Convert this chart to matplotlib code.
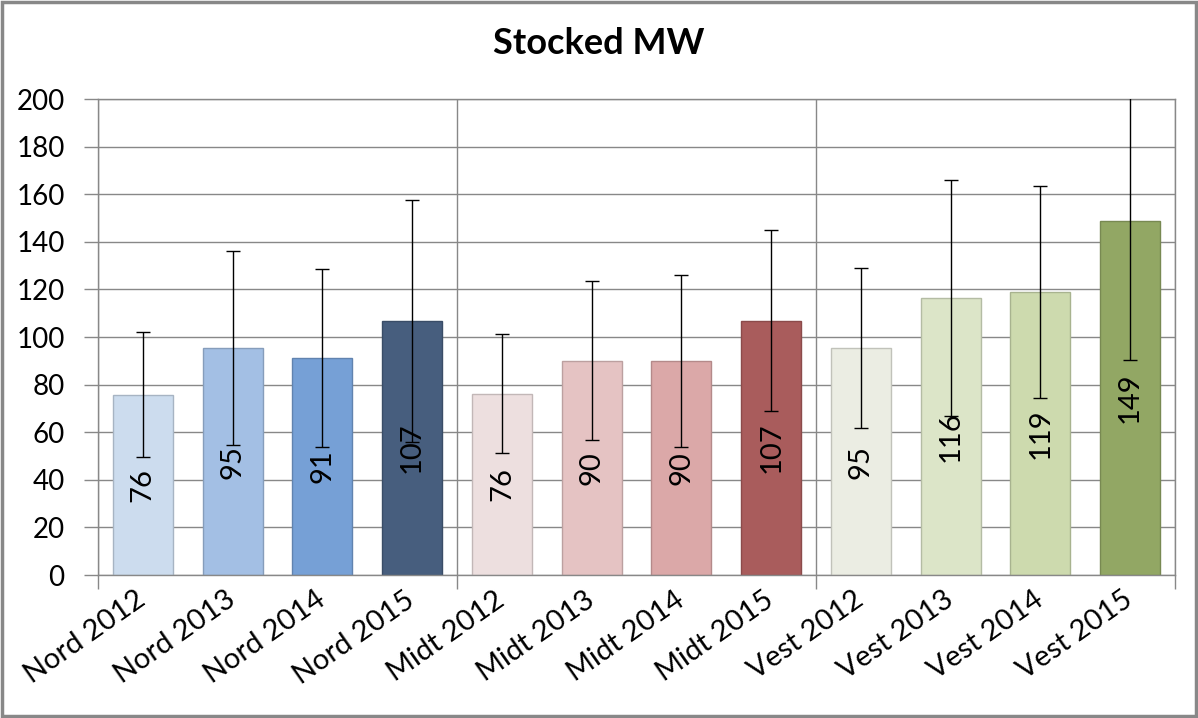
import matplotlib
matplotlib.use("Agg")
import matplotlib.pyplot as plt
import numpy as np
from matplotlib.patches import Rectangle
from matplotlib.colors import to_rgb

categories = ["Nord 2012", "Nord 2013", "Nord 2014", "Nord 2015",
              "Midt 2012", "Midt 2013", "Midt 2014", "Midt 2015",
              "Vest 2012", "Vest 2013", "Vest 2014", "Vest 2015"]
values = [75.8, 95.3, 91.1, 106.8, 76.2, 90.1, 89.8, 106.9, 95.3, 116.4, 118.9, 148.7]
errors = [26.2, 40.8, 37.4, 50.8, 25.0, 33.4, 36.2, 38.0, 33.6, 49.6, 44.6, 58.4]
colors = ["#CCDCEE", "#A3BFE4", "#76A0D6", "#475E7E",
          "#EDDFDF", "#E5C3C3", "#DBA8A8", "#A95C5C",
          "#EBEDE3", "#DCE5C8", "#CDDAAE", "#92A764"]
yticks = [0, 20, 40, 60, 80, 100, 120, 140, 160, 180, 200]
group_edges = [-0.5, 3.5, 7.5, 11.5]

plt.rcParams["font.family"] = ["Lato", "DejaVu Sans"]
GRID = "#888888"

fig = plt.figure(figsize=(11.98, 7.18), dpi=100)
ax = fig.add_axes([98 / 1198, 1 - 575 / 718, (1175 - 98) / 1198, (575 - 99) / 718])

x = np.arange(len(categories))
edge = [tuple(c * 0.82 for c in to_rgb(col)) for col in colors]
bars = ax.bar(x, values, width=0.67, color=colors, edgecolor=edge,
              linewidth=1.0, zorder=2)
ax.errorbar(x, values, yerr=errors, fmt="none", ecolor="black",
            elinewidth=1.0, capsize=5, capthick=1.0, zorder=3)
ax.bar_label(bars, labels=[f"{v:.0f}" for v in values], label_type="center",
             rotation=90, fontsize=21, color="black", zorder=4)

ax.set_xlim(-0.5, 11.5)
ax.set_ylim(0, 200)
ax.set_yticks(yticks)
ax.set_yticklabels([str(t) for t in yticks])
ax.yaxis.grid(True, color=GRID, lw=1.0, zorder=0)
ax.set_axisbelow(True)
for xe in group_edges:
    ax.axvline(xe, color=GRID, lw=1.0, zorder=1)

ax.set_xticks(x)
ax.set_xticklabels(categories, rotation=35, ha="right", va="center",
                   rotation_mode="anchor")
ax.set_xticks(group_edges, minor=True)
ax.tick_params(axis="x", which="major", length=0, labelsize=21, pad=16)
ax.tick_params(axis="x", which="minor", length=10, color=GRID, width=1.0)
ax.tick_params(axis="y", length=10, color=GRID, width=1.0, labelsize=20, pad=14)
for s in ax.spines.values():
    s.set_color(GRID)
    s.set_linewidth(1.0)

fig.text(0.5, 1 - 44 / 718, "Stocked MW", ha="center", va="center",
         fontsize=26, fontweight="bold")

fig.patches.append(Rectangle((0.0015, 0.0025), 0.997, 0.995, transform=fig.transFigure,
                             fill=False, edgecolor=GRID, lw=2.5))

fig.savefig("out.png", dpi=100)
